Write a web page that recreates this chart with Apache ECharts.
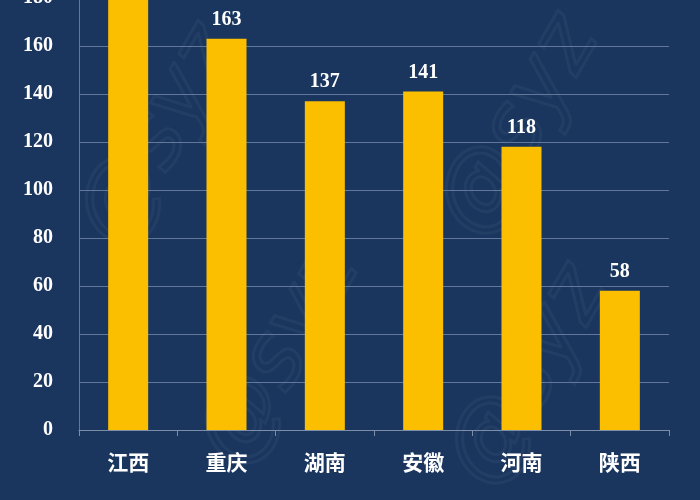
<!DOCTYPE html>
<html><head><meta charset="utf-8">
<script src="https://cdn.jsdelivr.net/npm/echarts@6/dist/echarts.min.js"></script>
<style>html,body{margin:0;padding:0;background:#1a365e;}#c{width:700px;height:500px;}</style>
</head><body><div id="c"></div>
<script>
var categories = ['江西','重庆','湖南','安徽','河南','陕西'];
var values = [195, 163, 137, 141, 118, 58];
var yTicks = [0,20,40,60,80,100,120,140,160,180];

var chart = echarts.init(document.getElementById('c'));
var wm = function(x,y,rot){return {type:'text',left:x,top:y,rotation:rot,silent:true,z:0,
  style:{text:'@syz',fill:'rgba(0,0,0,0)',stroke:'rgba(255,255,255,0.045)',lineWidth:3,font:'italic 90px "DejaVu Sans"'}};};
chart.setOption({
  backgroundColor:'#1a365e',
  animation:false,
  graphic:[wm(60,10,Math.PI/3), wm(420,0,Math.PI/3), wm(180,230,Math.PI/3), wm(430,250,Math.PI/3)],
  grid:{left:79,right:31,top:-2,bottom:70,outerBoundsMode:'none',containLabel:false},
  xAxis:{type:'category',data:categories,
    axisLine:{lineStyle:{color:'#7d8ea8',width:1}},
    axisTick:{show:true,length:6,lineStyle:{color:'#7d8ea8'}},
    axisLabel:{color:'#ffffff',fontSize:21,fontWeight:'bold',margin:22,fontFamily:'"Noto Sans CJK SC"'}},
  yAxis:{type:'value',min:0,max:180,interval:20,
    axisLine:{show:true,lineStyle:{color:'#62789a'}},
    axisTick:{show:false},
    splitLine:{lineStyle:{color:'#62789a',width:1}},
    axisLabel:{color:'#ffffff',fontSize:20,fontWeight:'bold',margin:26,fontFamily:'"Liberation Serif"',
      formatter:function(v){return yTicks.indexOf(v)>=0?String(v):'';}}},
  series:[{type:'bar',data:values,barWidth:40,
    itemStyle:{color:'#fcbf00'},
    label:{show:true,position:'top',distance:9,color:'#ffffff',fontSize:20,fontWeight:'bold',fontFamily:'"Liberation Serif"'}}]
});
</script></body></html>
